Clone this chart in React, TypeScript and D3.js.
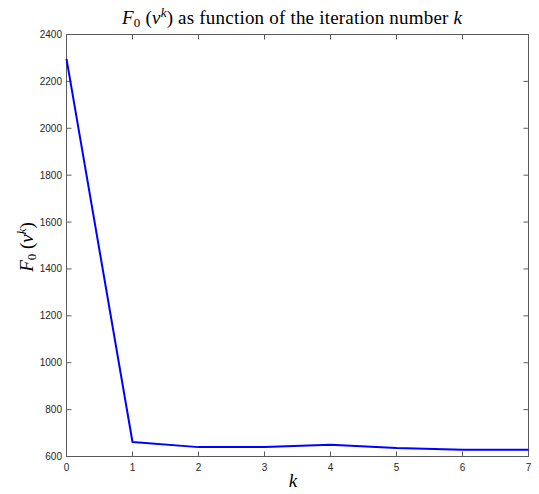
import React from "react";
import * as d3 from "d3";

const iterations = [0, 1, 2, 3, 4, 5, 6, 7];
const f0Values = [2296, 662, 640, 640, 650, 636, 629, 629];
const xTicks = [0, 1, 2, 3, 4, 5, 6, 7];
const yTicks = [600, 800, 1000, 1200, 1400, 1600, 1800, 2000, 2200, 2400];

const W = 539, H = 494;
const M = { left: 66.5, right: 528.5, top: 34.5, bottom: 456.5 };
const axisColor = "#5a5a5a";
const textColor = "#262626";

export default function App() {
  const x = d3.scaleLinear().domain([0, 7]).range([M.left, M.right]);
  const y = d3.scaleLinear().domain([600, 2400]).range([M.bottom, M.top]);
  const line = d3.line<number>().x((_, i) => x(iterations[i])).y((d) => y(d));
  const tick = 5;
  const serif = "'Liberation Serif', 'DejaVu Serif', serif";
  return (
    <svg width={W} height={H} style={{ position: "absolute", left: 0, top: 0, background: "#fff" }}>
      <rect x={0} y={0} width={W} height={H} fill="#fff" />
      <rect x={M.left} y={M.top} width={M.right - M.left} height={M.bottom - M.top} fill="#fff" stroke={axisColor} strokeWidth={1} />
      {xTicks.map((t) => (
        <g key={"x" + t}>
          <line x1={x(t)} x2={x(t)} y1={M.bottom} y2={M.bottom - tick} stroke={axisColor} />
          <line x1={x(t)} x2={x(t)} y1={M.top} y2={M.top + tick} stroke={axisColor} />
          <text x={x(t)} y={471} textAnchor="middle" fontSize={10} fontFamily="'Liberation Sans', Arial, sans-serif" fill={textColor}>{t}</text>
        </g>
      ))}
      {yTicks.map((t) => (
        <g key={"y" + t}>
          <line x1={M.left} x2={M.left + tick} y1={y(t)} y2={y(t)} stroke={axisColor} />
          <line x1={M.right} x2={M.right - tick} y1={y(t)} y2={y(t)} stroke={axisColor} />
          <text x={62} y={y(t) + 3.5} textAnchor="end" fontSize={10} fontFamily="'Liberation Sans', Arial, sans-serif" fill={textColor}>{t}</text>
        </g>
      ))}
      <path d={line(f0Values) || ""} fill="none" stroke="#0000ff" strokeWidth={2} strokeLinejoin="round" />
      <text x={122} y={24} textAnchor="start" fontSize={19} fontFamily={serif} fill="#000" textLength={340} lengthAdjust="spacing">
        <tspan fontStyle="italic">F</tspan>
        <tspan fontSize={13} dy={3}>0</tspan>
        <tspan dy={-3}>{" ("}</tspan>
        <tspan fontStyle="italic">v</tspan>
        <tspan fontStyle="italic" fontSize={13} dy={-7}>k</tspan>
        <tspan dy={7}>{")"}</tspan>
        <tspan>{" as function of the iteration number "}</tspan>
        <tspan fontStyle="italic">k</tspan>
      </text>
      <text transform={`translate(33, 247) rotate(-90)`} textAnchor="middle" fontSize={19} fontFamily={serif} fill="#000">
        <tspan fontStyle="italic">F</tspan>
        <tspan fontSize={13} dy={3}>0</tspan>
        <tspan dy={-3}>{" ("}</tspan>
        <tspan fontStyle="italic">v</tspan>
        <tspan fontStyle="italic" fontSize={13} dy={-7}>k</tspan>
        <tspan dy={7}>{")"}</tspan>
      </text>
      <text x={293} y={487} textAnchor="middle" fontSize={19} fontStyle="italic" fontFamily={serif} fill="#000">k</text>
    </svg>
  );
}
